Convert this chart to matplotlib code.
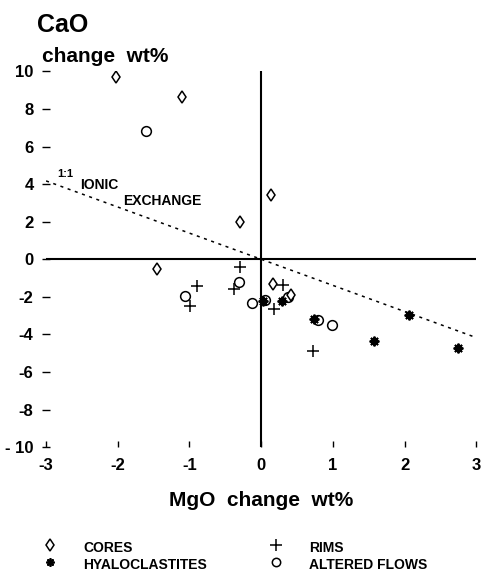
import matplotlib.pyplot as plt
from matplotlib.lines import Line2D
import numpy as np

plt.rcParams['font.family'] = ['Liberation Sans', 'DejaVu Sans']
plt.rcParams['font.weight'] = 'bold'
plt.rcParams['axes.unicode_minus'] = False

# datos (cambio en wt%)
cores_mgo = [-2.03, -1.10, 0.14, -0.29, -1.45, 0.16, 0.42]
cores_cao = [9.72, 8.63, 3.44, 1.98, -0.53, -1.29, -1.90]

rims_mgo = [-0.29, -0.89, -0.99, -0.38, 0.30, 0.18, 0.72]
rims_cao = [-0.41, -1.42, -2.50, -1.56, -1.35, -2.66, -4.89]

hyalo_mgo = [0.29, 0.73, 2.06, 1.58, 2.74, 0.02]
hyalo_cao = [-2.23, -3.18, -2.94, -4.34, -4.72, -2.22]

flows_mgo = [-1.61, -1.06, -0.31, -0.13, 0.05, 0.99, 0.79, 0.38]
flows_cao = [6.81, -1.95, -1.21, -2.32, -2.15, -3.51, -3.25, -2.00]

# linea de intercambio ionico 1:1 (molar CaO/MgO)
exch_mgo = [-3, 3]
exch_cao = [4.17, -4.17]

fig = plt.figure(figsize=(4.85, 5.8), dpi=100)
ax = fig.add_axes([0.095, 0.229, 0.887, 0.648])

ax.plot(exch_mgo, exch_cao, color='black', lw=1.1, dashes=(2, 3))
ax.axhline(0, color='black', lw=1.5)
ax.axvline(0, color='black', lw=1.5)

estilo = dict(linestyle='none', color='black')
ax.plot(flows_mgo, flows_cao, marker='o', ms=7, mfc='white', mew=1.1, **estilo)
ax.plot(cores_mgo, cores_cao, marker='d', ms=6, mfc='white', mew=1.1, **estilo)
ax.plot(rims_mgo, rims_cao, marker='+', ms=8, mew=1.1, **estilo)
ax.plot(hyalo_mgo, hyalo_cao, marker=(8, 2, 0), ms=7, mew=1.4, **estilo)

ax.set_xlim(-3, 3)
ax.set_ylim(-10, 10)
for s in ax.spines.values():
    s.set_visible(False)

ax.set_xticks(np.arange(-3, 4, 1))
ax.set_yticks(np.arange(-10, 11, 2))
ax.set_yticklabels(['- 10', '-8', '-6', '-4', '-2', '0', '2', '4', '6', '8', '10'])
ax.tick_params(axis='x', direction='in', length=4, width=1, pad=8, labelsize=12)
ax.tick_params(axis='y', direction='inout', length=6, width=1, pad=6, labelsize=12)

ax.text(-2.85, 4.4, '1:1', fontsize=8)
ax.text(-2.53, 3.75, 'IONIC', fontsize=10)
ax.text(-1.93, 2.9, 'EXCHANGE', fontsize=10)

fig.text(37 / 485, 1 - 25 / 580, 'CaO', fontsize=18, va='center')
fig.text(42 / 485, 1 - 57 / 580, 'change  wt%', fontsize=15, va='center')
fig.text(261 / 485, 1 - 501 / 580, 'MgO  change  wt%', fontsize=15, va='center', ha='center')

# leyenda manual
leyenda = [
    ('CORES', dict(marker='d', ms=6, mfc='white', mew=1.1), 50, 545),
    ('HYALOCLASTITES', dict(marker=(8, 2, 0), ms=6, mew=1.3), 50, 562),
    ('RIMS', dict(marker='+', ms=8, mew=1.1), 276, 545),
    ('ALTERED FLOWS', dict(marker='o', ms=6, mfc='white', mew=1.1), 276, 562),
]
for nombre, mk, px, py in leyenda:
    fig.add_artist(Line2D([px / 485], [1 - py / 580], transform=fig.transFigure,
                          color='black', linestyle='none', **mk))
    fig.text((px + 33) / 485, 1 - (py + 3) / 580, nombre, fontsize=10, va='center')

fig.savefig('out.png', dpi=100)
